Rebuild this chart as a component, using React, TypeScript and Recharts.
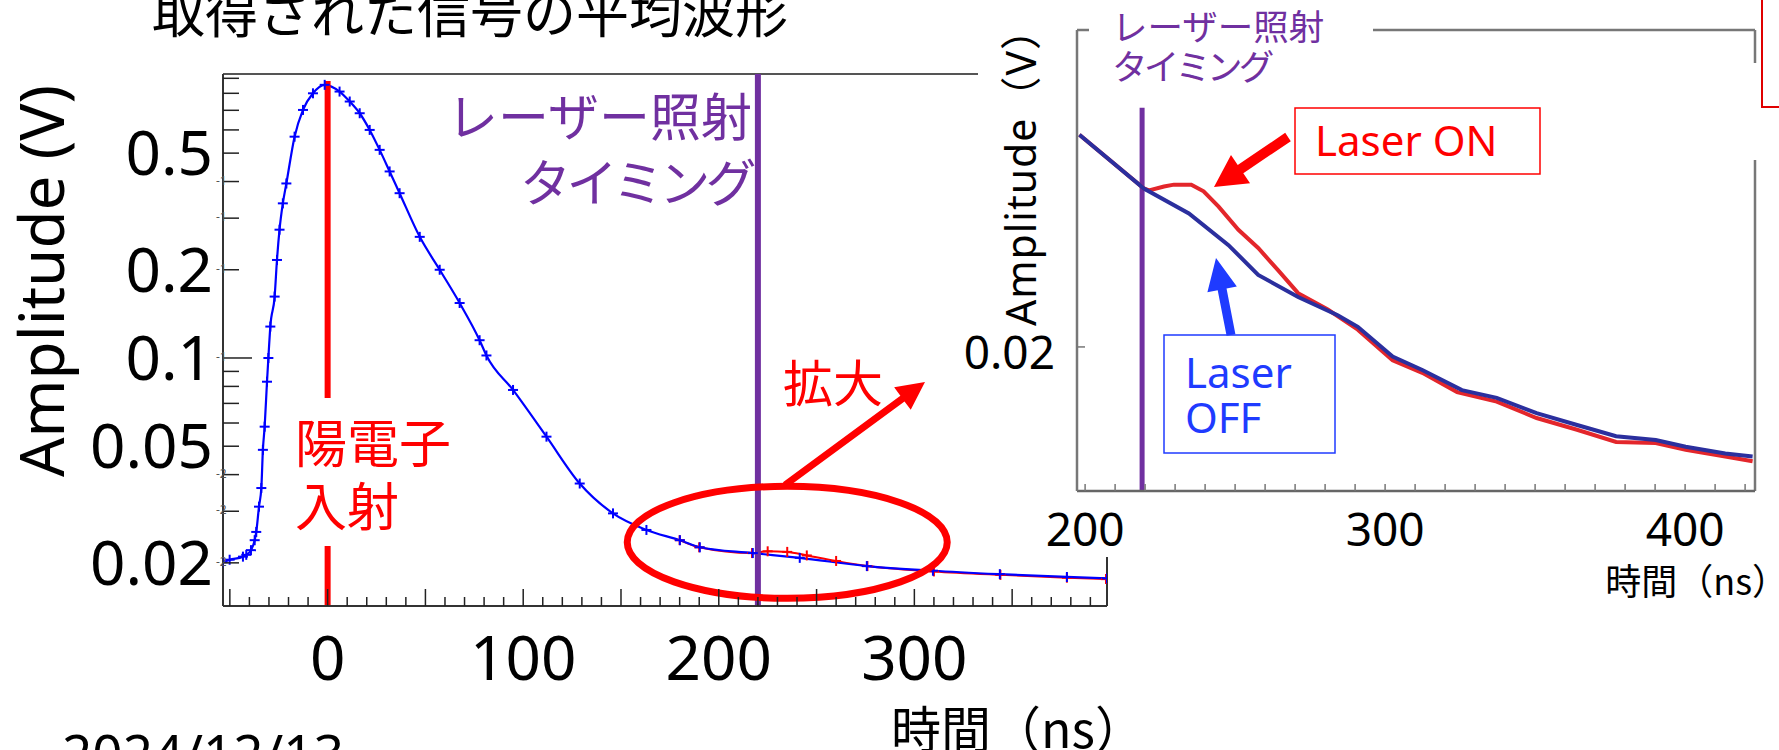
import React from 'react';
import { LineChart, Line, XAxis, YAxis, ReferenceLine, ReferenceDot } from 'recharts';

// ---- main waveform (time in ns, amplitude in V) ----
const mainTime = [-53.7, -50.1, -43.3, -41.6, -39.2, -37.3, -36.5, -35.1, -33.9, -33.1, -32.2, -31.0, -30.3, -29.3, -27.1, -25.9, -24.6, -22.9, -21.1, -16.9, -12.6, -7.5, -1.5, 6.1, 11.3, 16.4, 21.5, 26.6, 31.7, 36.8, 47.1, 57.3, 67.5, 77.7, 81.2, 94.8, 111.9, 128.9, 145.9, 163.0, 180.1, 190.3, 217.4, 241.4, 275.7, 309.5, 343.7, 378.0, 398.5];
const laserOffMain = [0.0201, 0.0205, 0.0210, 0.0213, 0.0221, 0.0239, 0.0255, 0.0311, 0.0360, 0.0486, 0.0583, 0.0830, 0.100, 0.128, 0.162, 0.216, 0.274, 0.337, 0.394, 0.569, 0.702, 0.800, 0.855, 0.811, 0.750, 0.684, 0.600, 0.513, 0.433, 0.365, 0.259, 0.200, 0.154, 0.115, 0.102, 0.0778, 0.0539, 0.0373, 0.0295, 0.0259, 0.0239, 0.0226, 0.0216, 0.0208, 0.0195, 0.0188, 0.0183, 0.0179, 0.0177];
const onTimeMain = [180, 190, 217, 225, 235, 245, 260, 276, 310, 344, 378, 398];
const laserOnMain = [0.0239, 0.0226, 0.0216, 0.0219, 0.0218, 0.0212, 0.0203, 0.0195, 0.0187, 0.0182, 0.0178, 0.0176];

const mainXLabels = [0, 100, 200, 300];
const mainYLabels = [0.02, 0.05, 0.1, 0.2, 0.5];
const mainYTicks = [0.02, 0.03, 0.04, 0.05, 0.06, 0.07, 0.08, 0.09, 0.1, 0.2, 0.3, 0.4, 0.5, 0.6, 0.7, 0.8, 0.9];
const expMinus1 = [0.1, 0.2, 0.3, 0.4];
const expMinus2 = [0.02, 0.03, 0.04];

// ---- zoomed inset (200-420 ns) ----
const insetOffTime = [198.1, 219.6, 234.6, 247.8, 257.7, 271.0, 284.2, 290.9, 302.5, 312.4, 325.6, 337.2, 350.5, 363.7, 377.0, 390.2, 400.2, 413.4, 422.5];
const insetOff = [0.02221, 0.02165, 0.02139, 0.02106, 0.02075, 0.02052, 0.02033, 0.02021, 0.01990, 0.01976, 0.01955, 0.01947, 0.01931, 0.01919, 0.01907, 0.01903, 0.01896, 0.01889, 0.01886];
const insetOnTime = [198.1, 219.6, 221.3, 226.3, 229.6, 235.4, 239.5, 244.5, 251.1, 257.7, 264.3, 271.0, 280.9, 290.9, 302.5, 312.4, 324.0, 337.2, 350.5, 363.7, 377.0, 390.2, 400.2, 413.4, 422.5];
const insetOn = [0.02221, 0.02165, 0.02163, 0.02167, 0.02169, 0.02169, 0.02162, 0.02146, 0.02122, 0.02103, 0.02080, 0.02056, 0.02039, 0.02018, 0.01986, 0.01973, 0.01953, 0.01943, 0.01926, 0.01914, 0.01901, 0.01900, 0.01893, 0.01886, 0.01881];
const insetXLabels = [200, 300, 400];
const insetYTicks = [0.02];

const LASER_T = 220;
const LASER_T_INSET = 219;

const MAIN_X = [-53.5, 398.5];
const MAIN_Y = [0.01425, 0.931];
const INSET_X = [197.3, 423.3];
const INSET_Y = [0.0185, 0.0233];

const LATIN = "'Noto Sans', 'Noto Sans CJK JP', sans-serif";
const CJK = "'Noto Sans CJK JP', 'Noto Sans', sans-serif";

const zip = (ts: number[], vs: number[]) => ts.map((t, i) => ({ t, v: vs[i] }));
const offMain = zip(mainTime, laserOffMain);
const onMain = zip(onTimeMain, laserOnMain);
const offInset = zip(insetOffTime, insetOff);
const onInset = zip(insetOnTime, insetOn);

const mainXTicks = Array.from({ length: 45 }, (_, i) => -50 + i * 10);
const insetXTicks = Array.from({ length: 23 }, (_, i) => 200 + i * 10);

const near = (arr: number[], v: number) => arr.some((a) => Math.abs(a - v) < 1e-9);

const MainXTick = (props: any) => {
  const { x, y, payload } = props;
  const v = payload.value;
  const major = v % 50 === 0;
  return (
    <g>
      <line x1={x} x2={x} y1={y} y2={y - (major ? 17 : 9)} stroke="#222" strokeWidth={1.5} />
      {near(mainXLabels, v) && (
        <text x={x} y={y + 74} textAnchor="middle" fontSize={62} fontFamily={LATIN} fill="#000">
          {v}
        </text>
      )}
    </g>
  );
};

const MainYTick = (props: any) => {
  const { x, y, payload } = props;
  const v = payload.value;
  const len = Math.abs(v - 0.1) < 1e-9 ? 29 : 16;
  const exp = near(expMinus1, v) ? '-1' : near(expMinus2, v) ? '-2' : null;
  return (
    <g>
      <line x1={x} x2={x + len} y1={y} y2={y} stroke="#222" strokeWidth={1.5} />
      {exp && (
        <text x={x - 7} y={y + 3} fontSize={12} fontFamily={LATIN} fill="#555">
          {exp}
        </text>
      )}
      {near(mainYLabels, v) && (
        <text x={x - 10} y={y + 22} textAnchor="end" fontSize={62} fontFamily={LATIN} fill="#000">
          {String(v)}
        </text>
      )}
    </g>
  );
};

const InsetXTick = (props: any) => {
  const { x, y, payload } = props;
  const v = payload.value;
  return (
    <g>
      <line x1={x} x2={x} y1={y} y2={y - 7} stroke="#777" strokeWidth={1.5} />
      {near(insetXLabels, v) && (
        <text x={x} y={y + 55} textAnchor="middle" fontSize={46} fontFamily={LATIN} fill="#000">
          {v}
        </text>
      )}
    </g>
  );
};

const InsetYTick = (props: any) => {
  const { x, y, payload } = props;
  return (
    <g>
      <line x1={x} x2={x + 8} y1={y} y2={y} stroke="#777" strokeWidth={1.5} />
      <text x={x - 22} y={y + 22} textAnchor="end" fontSize={46} fontFamily={LATIN} fill="#000">
        {String(payload.value)}
      </text>
    </g>
  );
};

const PlusDot = (props: any) => {
  const { cx, cy, color } = props;
  if (cx == null || cy == null) return null;
  return (
    <g>
      <line x1={cx - 5} x2={cx + 5} y1={cy} y2={cy} stroke={color} strokeWidth={2} />
      <line x1={cx} x2={cx} y1={cy - 5} y2={cy + 5} stroke={color} strokeWidth={2} />
    </g>
  );
};

const Ellipse = (props: any) => (
  <ellipse cx={props.cx} cy={props.cy} rx={160} ry={56} fill="none" stroke="#ff0000" strokeWidth={7} />
);

const arrowPoints = (x1: number, y1: number, x2: number, y2: number, w: number, hl: number, hw: number) => {
  const dx = x2 - x1;
  const dy = y2 - y1;
  const L = Math.hypot(dx, dy);
  const ux = dx / L;
  const uy = dy / L;
  const px = -uy;
  const py = ux;
  const bx = x2 - ux * hl;
  const by = y2 - uy * hl;
  const pts = [
    [x1 + (px * w) / 2, y1 + (py * w) / 2],
    [bx + (px * w) / 2, by + (py * w) / 2],
    [bx + px * hw, by + py * hw],
    [x2, y2],
    [bx - px * hw, by - py * hw],
    [bx - (px * w) / 2, by - (py * w) / 2],
    [x1 - (px * w) / 2, y1 - (py * w) / 2],
  ];
  return pts.map((p) => p.join(',')).join(' ');
};

const abs: React.CSSProperties = { position: 'absolute', left: 0, top: 0 };

export default function App() {
  return (
    <div style={{ ...abs, width: 1779, height: 750, overflow: 'hidden', background: '#fff' }}>
      {/* main chart */}
      <div style={abs}>
        <LineChart width={1779} height={750} margin={{ top: 74, right: 672, bottom: 0, left: 0 }}>
          <XAxis
            type="number"
            dataKey="t"
            domain={MAIN_X}
            allowDataOverflow
            ticks={mainXTicks}
            interval={0}
            tick={<MainXTick />}
            tickLine={false}
            tickSize={0}
            tickMargin={0}
            height={144}
            axisLine={{ stroke: '#333', strokeWidth: 2 }}
          />
          <YAxis
            type="number"
            scale="log"
            domain={MAIN_Y}
            allowDataOverflow
            ticks={mainYTicks}
            interval={0}
            tick={<MainYTick />}
            tickLine={false}
            tickSize={0}
            tickMargin={0}
            width={223}
            axisLine={{ stroke: '#333', strokeWidth: 2 }}
          />
          <ReferenceLine y={MAIN_Y[1]} stroke="#555" strokeWidth={2} ifOverflow="visible" />
          <ReferenceLine x={MAIN_X[1]} stroke="#333" strokeWidth={2} ifOverflow="visible" />
          <Line
            data={onMain}
            dataKey="v"
            type="monotone"
            stroke="#ff0000"
            strokeWidth={2}
            dot={<PlusDot color="#ff0000" />}
            isAnimationActive={false}
          />
          <Line
            data={offMain}
            dataKey="v"
            type="monotone"
            stroke="#0000ff"
            strokeWidth={2.2}
            dot={<PlusDot color="#0000ff" />}
            isAnimationActive={false}
          />
          <ReferenceLine
            segment={[{ x: 0, y: 0.882 }, { x: 0, y: MAIN_Y[0] }]}
            stroke="#ff0000"
            strokeWidth={6}
          />
          <ReferenceLine x={LASER_T} stroke="#7030a0" strokeWidth={6} />
          <ReferenceDot x={235} y={0.0235} shape={<Ellipse />} />
        </LineChart>
      </div>

      {/* the inset picture sits on a white patch over the upper right of the main chart */}
      <div style={{ position: 'absolute', left: 978, top: 0, width: 801, height: 557, background: '#fff' }} />

      {/* inset chart */}
      <div style={abs}>
        <LineChart width={1779} height={750} margin={{ top: 30, right: 24, bottom: 0, left: 0 }}>
          <XAxis
            type="number"
            dataKey="t"
            domain={INSET_X}
            allowDataOverflow
            ticks={insetXTicks}
            interval={0}
            tick={<InsetXTick />}
            tickLine={false}
            tickSize={0}
            tickMargin={0}
            height={259}
            axisLine={{ stroke: '#666', strokeWidth: 2.5 }}
          />
          <YAxis
            type="number"
            domain={INSET_Y}
            allowDataOverflow
            ticks={insetYTicks}
            interval={0}
            tick={<InsetYTick />}
            tickLine={false}
            tickSize={0}
            tickMargin={0}
            width={1077}
            axisLine={{ stroke: '#777', strokeWidth: 2.5 }}
          />
          <ReferenceLine y={INSET_Y[1]} stroke="#777" strokeWidth={2.5} ifOverflow="visible" />
          <ReferenceLine x={INSET_X[1]} stroke="#777" strokeWidth={2.5} ifOverflow="visible" />
          <ReferenceLine
            segment={[{ x: LASER_T_INSET, y: 0.02249 }, { x: LASER_T_INSET, y: INSET_Y[0] }]}
            stroke="#7030a0"
            strokeWidth={5}
          />
          <Line
            data={onInset}
            dataKey="v"
            type="linear"
            stroke="#e3262b"
            strokeWidth={4}
            dot={false}
            isAnimationActive={false}
          />
          <Line
            data={offInset}
            dataKey="v"
            type="linear"
            stroke="#2b2f9e"
            strokeWidth={4}
            dot={false}
            isAnimationActive={false}
          />
        </LineChart>
      </div>

      {/* slide annotations */}
      <svg width={1779} height={750} style={{ ...abs, pointerEvents: 'none' }}>
        <text x={152} y={33} fontSize={53} fontFamily={CJK} fill="#000">
          取得された信号の平均波形
        </text>

        <text
          transform="translate(42,281) rotate(-90)"
          textAnchor="middle"
          dy="0.35em"
          fontSize={62}
          fontFamily={LATIN}
          fill="#000"
        >
          Amplitude (V)
        </text>

        <text x={1145} y={748} textAnchor="end" fontSize={50} fontFamily={CJK} fill="#000">
          時間（ns）
        </text>
        <text x={62} y={773} fontSize={53} fontFamily={LATIN} fill="#000">
          2024/12/13
        </text>

        <text x={752} y={136} textAnchor="end" fontSize={51} fontFamily={CJK} fill="#7030a0">
          レーザー照射
        </text>
        <text x={752} y={202} textAnchor="end" fontSize={51} letterSpacing={-4.6} fontFamily={CJK} fill="#7030a0">
          タイミング
        </text>

        <rect x={288} y={398} width={170} height={148} fill="#fff" />
        <text x={295} y={463} fontSize={52} fontFamily={CJK} fill="#ff0000">
          陽電子
        </text>
        <text x={295} y={526} fontSize={52} fontFamily={CJK} fill="#ff0000">
          入射
        </text>

        <text x={783} y={402} fontSize={50} fontFamily={CJK} fill="#ff0000">
          拡大
        </text>
        <polygon points={arrowPoints(785, 485, 925, 382, 7, 28, 14)} fill="#ff0000" />

        {/* inset annotations */}
        <rect x={1089} y={0} width={284} height={100} fill="#fff" />
        <rect x={1745} y={63} width={20} height={97} fill="#fff" />
        <rect x={1762} y={-5} width={40} height={112} fill="none" stroke="#e00000" strokeWidth={2} />

        <text x={1112} y={40} fontSize={35.5} fontFamily={CJK} fill="#7030a0">
          レーザー照射
        </text>
        <text x={1112} y={80} fontSize={35.5} letterSpacing={-3.8} fontFamily={CJK} fill="#7030a0">
          タイミング
        </text>

        <text
          transform="translate(1022,167) rotate(-90)"
          textAnchor="middle"
          dy="0.35em"
          fontSize={41}
          letterSpacing={1}
          fontFamily={LATIN}
          fill="#000"
        >
          Amplitude（V）
        </text>
        <text x={1788} y={595} textAnchor="end" fontSize={36} fontFamily={CJK} fill="#000">
          時間（ns）
        </text>

        <rect x={1295} y={108} width={245} height={66} fill="#fff" stroke="#ff0000" strokeWidth={1.5} />
        <text x={1315} y={156} fontSize={42} fontFamily={LATIN} fill="#ff0000">
          Laser ON
        </text>
        <polygon points={arrowPoints(1288, 137, 1214, 187, 10, 32, 17)} fill="#ff0000" />

        <rect x={1164} y={335} width={171} height={118} fill="#fff" stroke="#1f3bff" strokeWidth={1.5} />
        <text x={1185} y={388} fontSize={42} fontFamily={LATIN} fill="#1f3bff">
          Laser
        </text>
        <text x={1185} y={433} fontSize={42} fontFamily={LATIN} fill="#1f3bff">
          OFF
        </text>
        <polygon points={arrowPoints(1231, 335, 1216, 258, 9, 32, 15)} fill="#1f3bff" />
      </svg>
    </div>
  );
}
